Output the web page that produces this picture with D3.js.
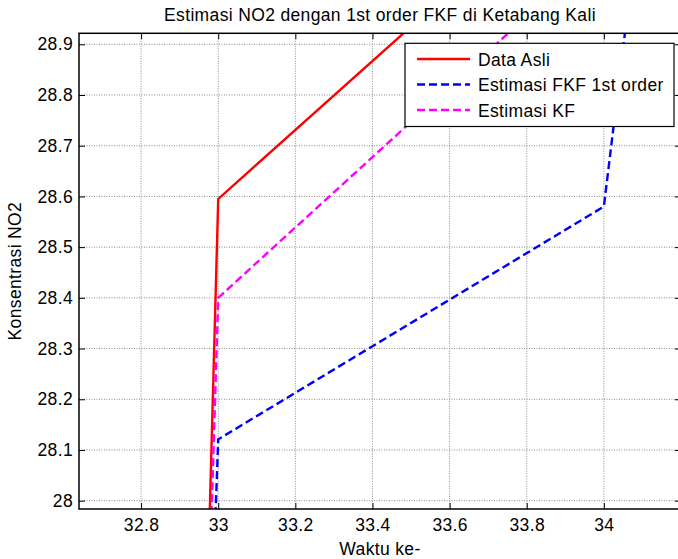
<!DOCTYPE html>
<html>
<head>
<meta charset="utf-8">
<script src="https://cdn.jsdelivr.net/npm/d3@7"></script>
<style>
  body { margin: 0; background: #fff; }
  svg { display: block; font-family: "Liberation Sans", Arial, sans-serif; letter-spacing: 0.35px; }
</style>
</head>
<body>
<svg id="chart" width="678" height="559"></svg>
<script>
// data
const waktu = [32, 33, 34, 35];
const dataAsli = [0.5, 28.595, 29.275, 29.6];
const estimasiFKF = [6.9, 28.121, 28.58, 34.85];
const estimasiKF = [3.8, 28.4, 29.094, 29.4];

const xTicks = [32.8, 33, 33.2, 33.4, 33.6, 33.8, 34];
const yTicks = [28, 28.1, 28.2, 28.3, 28.4, 28.5, 28.6, 28.7, 28.8, 28.9];

const seriesNames = ["Data Asli", "Estimasi FKF 1st order", "Estimasi KF"];

let svg = d3.select("#chart");
let fontSize = 17.5;

// axes box (right side runs off the window)
let boxLeft = 79, boxRight = 681, boxTop = 33.3, boxBottom = 509;

let xScale = d3.scaleLinear().domain([32.639, 34.2]).range([boxLeft, boxRight]);
let yScale = d3.scaleLinear().domain([27.9836, 28.9217]).range([boxBottom, boxTop]);

//clip for lines
svg.append("clipPath")
  .attr("id", "plot-clip")
  .append("rect")
  .attr("x", boxLeft)
  .attr("y", boxTop)
  .attr("width", boxRight - boxLeft)
  .attr("height", boxBottom - boxTop);

//grid
let grid = svg.append("g").attr("class", "grid");
grid.selectAll("line.gx")
  .data(xTicks)
  .enter()
  .append("line")
  .attr("class", "gx")
  .attr("x1", d => xScale(d))
  .attr("x2", d => xScale(d))
  .attr("y1", boxTop)
  .attr("y2", boxBottom)
  .attr("stroke", "#8a8a8a")
  .attr("stroke-width", 1)
  .attr("stroke-dasharray", "1,1.5");
grid.selectAll("line.gy")
  .data(yTicks)
  .enter()
  .append("line")
  .attr("class", "gy")
  .attr("x1", boxLeft)
  .attr("x2", boxRight)
  .attr("y1", d => yScale(d))
  .attr("y2", d => yScale(d))
  .attr("stroke", "#8a8a8a")
  .attr("stroke-width", 1)
  .attr("stroke-dasharray", "1,1.5");

//series
let series = [
  { name: seriesNames[0], values: dataAsli, color: "#ff0000", dash: null },
  { name: seriesNames[1], values: estimasiFKF, color: "#0000ff", dash: "8,4" },
  { name: seriesNames[2], values: estimasiKF, color: "#ff00ff", dash: "8,4" }
];

let line = d3.line()
  .x((d, i) => xScale(waktu[i]))
  .y(d => yScale(d));

let lines = svg.append("g").attr("clip-path", "url(#plot-clip)");
lines.selectAll("path")
  .data(series)
  .enter()
  .append("path")
  .attr("d", d => line(d.values))
  .attr("fill", "none")
  .attr("stroke", d => d.color)
  .attr("stroke-width", 2.4)
  .attr("stroke-dasharray", d => d.dash);

//axes: inward ticks on every side, like matlab
let xAxis = d3.axisBottom(xScale).tickValues(xTicks).tickSize(-6).tickPadding(10)
  .tickFormat(d3.format("~g"));
let yAxis = d3.axisLeft(yScale).tickValues(yTicks).tickSize(-6).tickPadding(6)
  .tickFormat(d3.format("~g"));

let gx = svg.append("g")
  .attr("transform", "translate(0," + boxBottom + ")")
  .call(xAxis);
let gy = svg.append("g")
  .attr("transform", "translate(" + boxLeft + ",0)")
  .call(yAxis);
let gxTop = svg.append("g")
  .attr("transform", "translate(0," + boxTop + ")")
  .call(d3.axisTop(xScale).tickValues(xTicks).tickSize(-6).tickFormat(""));
let gyRight = svg.append("g")
  .attr("transform", "translate(" + boxRight + ",0)")
  .call(d3.axisRight(yScale).tickValues(yTicks).tickSize(-6).tickFormat(""));

[gx, gy, gxTop, gyRight].forEach(g => {
  g.select(".domain").remove();
  g.selectAll(".tick line").attr("stroke", "#000").attr("stroke-width", 1);
  g.selectAll(".tick text")
    .attr("fill", "#000")
    .attr("font-size", fontSize)
    .attr("font-family", "Liberation Sans, Arial, sans-serif");
});

//box
svg.append("rect")
  .attr("x", boxLeft)
  .attr("y", boxTop)
  .attr("width", boxRight - boxLeft)
  .attr("height", boxBottom - boxTop)
  .attr("fill", "none")
  .attr("stroke", "#000")
  .attr("stroke-width", 1.5);

//title and labels
svg.append("text")
  .attr("x", (boxLeft + boxRight) / 2)
  .attr("y", 21)
  .attr("text-anchor", "middle")
  .attr("font-size", fontSize)
  .text("Estimasi NO2 dengan 1st order FKF di Ketabang Kali");

svg.append("text")
  .attr("x", (boxLeft + boxRight) / 2)
  .attr("y", 555)
  .attr("text-anchor", "middle")
  .attr("font-size", fontSize)
  .text("Waktu ke-");

svg.append("text")
  .attr("transform", "translate(21," + (boxTop + boxBottom) / 2 + ") rotate(-90)")
  .attr("text-anchor", "middle")
  .attr("font-size", fontSize)
  .text("Konsentrasi NO2");

//legend
let legend = svg.append("g").attr("class", "legend");
legend.append("rect")
  .attr("x", 405)
  .attr("y", 43.3)
  .attr("width", 269)
  .attr("height", 83.2)
  .attr("fill", "#fff")
  .attr("stroke", "#000")
  .attr("stroke-width", 1.2);

let rows = legend.selectAll("g.row")
  .data(series)
  .enter()
  .append("g")
  .attr("class", "row")
  .attr("transform", (d, i) => "translate(0," + (59 + i * 25.5) + ")");
rows.append("line")
  .attr("x1", 417)
  .attr("x2", 470)
  .attr("stroke", d => d.color)
  .attr("stroke-width", 2.4)
  .attr("stroke-dasharray", d => d.dash);
rows.append("text")
  .attr("x", 478)
  .attr("y", 6.5)
  .attr("font-size", fontSize)
  .text(d => d.name);
</script>
</body>
</html>
